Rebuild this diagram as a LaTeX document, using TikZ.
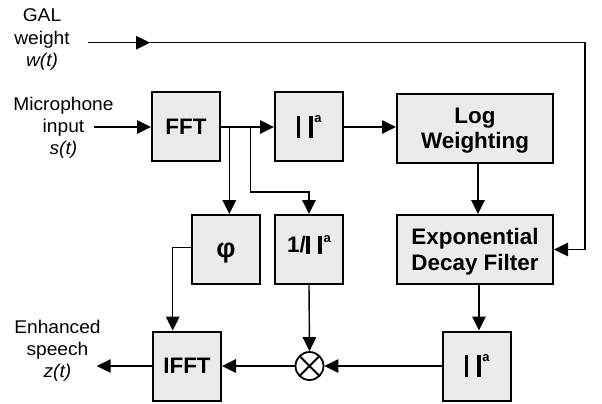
\documentclass[tikz,border=0pt]{standalone}
\usepackage{fontspec}
\setmainfont{Liberation Sans}
\newfontfamily\labelfont{Liberation Sans}[FakeStretch=1.04]
\usetikzlibrary{arrows.meta}
\definecolor{boxgray}{HTML}{EBEBEB}
% two magnitude bars with a small superscript a; #1 = bar offset below baseline, #2 = bar length
\newcommand{\barpair}[2]{%
  \rule[#1]{3.9bp}{#2}\hspace{8.5bp}\rule[#1]{3.9bp}{#2}\hspace{1.5bp}%
  \raisebox{\dimexpr#1+#2-6.8bp\relax}{\fontsize{13}{13}\selectfont\bfseries a}}
\tikzset{
  blockbox/.style={draw, line width=2bp, fill=boxgray, minimum width=68bp,
    minimum height=69bp, inner sep=0pt, align=center,
    font=\fontsize{22.5}{25.5}\selectfont\bfseries},
  lbl/.style={align=center, inner sep=0pt, font=\labelfont\fontsize{18.5}{22.2}\selectfont},
  wire/.style={line width=1.4bp},
  arr/.style={wire, -{Triangle[length=14bp,width=13.5bp]}},
  mixer/.style={draw, circle, line width=1.8bp, minimum size=28bp, inner sep=0pt,
    path picture={\draw[line width=1.8bp]
      (path picture bounding box.north west) -- (path picture bounding box.south east)
      (path picture bounding box.north east) -- (path picture bounding box.south west);}}
}
\begin{document}
\begin{tikzpicture}[x=1bp, y=-1bp]
\useasboundingbox (0,0) rectangle (602,403);

% signal blocks
\node[blockbox] (fft)  at (186,126.5) {FFT};
\node[blockbox] (abs1) at (309,126.5) {\barpair{-4bp}{22bp}};
\node[blockbox, minimum width=156bp, text depth=0pt] (logw) at (475,128) {Log\\Weighting};
\node[blockbox] (phi)  at (226,249.5)
  {\raisebox{-7.8bp}[0pt][0pt]{\fontsize{27}{27}\selectfont φ}};
\node[blockbox] (inv)  at (309,249.5)
  {\raisebox{-3bp}[0pt][0pt]{1/\barpair{-1bp}{18bp}}};
\node[blockbox, minimum width=156bp, text depth=0pt] (expf) at (475,249.5) {Exponential\\Decay Filter};
\node[blockbox] (abs2) at (477,366)   {\barpair{-4bp}{22bp}};
\node[blockbox] (ifft) at (187,366)   {IFFT};
\node[mixer]    (mul)  at (309.5,366) {};

% input / output labels
\node[lbl] (gal) at (42,39.5)  {GAL\\weight\\\textit{w(t)}};
\node[lbl] (mic) at (63.5,128) {Microphone\\input\\\textit{s(t)}};
\node[lbl] (out) at (57.5,350.5) {Enhanced\\speech\\\textit{z(t)}};

% free ends and turning points
\coordinate (galin)   at (88,42.7);
\coordinate (galmid)  at (150,42.7);
\coordinate (galturn) at (585,42.7);
\coordinate (micin)   at (94,127);
\coordinate (br1)     at (229.3,127);
\coordinate (br2)     at (250.3,127);
\coordinate (br2turn) at (250.3,192);
\coordinate (phiturn) at (172.7,247.3);
\coordinate (outend)  at (96.7,366);

% connectors
\draw[arr] (galin) -- (galmid);
\draw[arr] (galmid) -- (galturn) |- (expf.east);
\draw[arr] (micin) -- (micin -| fft.west);
\draw[arr] (fft.east |- micin) -- (abs1.west |- micin);
\draw[arr] (br1) -- (br1 |- phi.north);
\draw[arr] (br2) -- (br2turn) -| (inv.north);
\draw[arr] (abs1.east |- micin) -- (logw.west |- micin);
\draw[arr] ([xshift=3bp]logw.south) -- ([xshift=3bp]expf.north);
\draw[arr] ([xshift=4bp]expf.south) -- ([xshift=4bp]expf.south |- abs2.north);
\draw[arr] (abs2.west) -- (mul.east);
\draw[arr] (inv.south) -- (mul.north);
\draw[arr] (mul.west) -- (ifft.east);
\draw[arr] (phi.west |- phiturn) -- (phiturn) -- (phiturn |- ifft.north);
\draw[arr] (ifft.west) -- (outend);
\end{tikzpicture}
\end{document}
